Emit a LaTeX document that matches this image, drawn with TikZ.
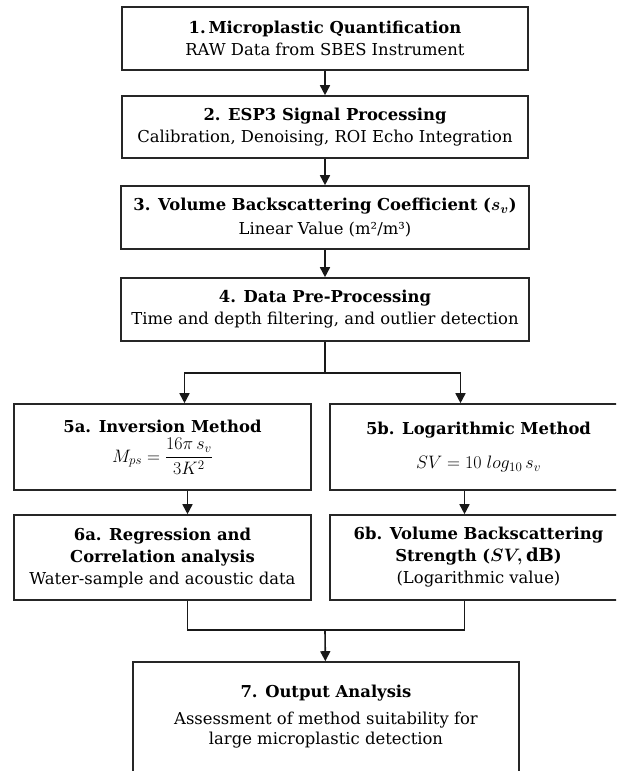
\RequirePackage{fix-cm}
\documentclass[tikz,border=0pt]{standalone}
\usepackage{amsmath}
\usepackage{fontspec}
\setmainfont{DejaVu Serif}
\DeclareMathSizes{16.4}{18}{13}{10}
\usetikzlibrary{arrows.meta}

\begin{document}
\begin{tikzpicture}[x=1pt,y=-1pt,
        stage/.style={draw=black!85,line width=1.6pt,fill=white,align=center,inner sep=0pt,
            font=\fontsize{16.4}{22}\selectfont},
        link/.style={line width=1.6pt,draw=black!90,-{Triangle[width=10pt,length=10pt]}},
        wire/.style={line width=1.6pt,draw=black!90}]
        \useasboundingbox (0,0) rectangle (616,771);
        \clip (0,0) rectangle (616,771);

        \node[stage,minimum width=406pt,minimum height=63pt] at (325,38.5) (raw)
            {\textbf{1.\,Microplastic Quantification}\\RAW Data from SBES Instrument};
        \node[stage,minimum width=406pt,minimum height=62pt] at (325,127) (esp)
            {\textbf{2. ESP3 Signal Processing}\\Calibration, Denoising, ROI Echo Integration};
        \node[stage,minimum width=408pt,minimum height=63pt] at (325,217.5) (vbc)
            {{\bfseries\boldmath 3. Volume Backscattering Coefficient ($s_v$)}\\[2pt]Linear Value (m²/m³)};
        \node[stage,minimum width=408pt,minimum height=63pt] at (325,309.5) (pre)
            {\textbf{4. Data Pre-Processing}\\Time and depth filtering, and outlier detection};

        \node[stage,minimum width=297pt,minimum height=86pt] at (162.5,447) (inv)
            {\textbf{5a. Inversion Method}\\[5pt]$M_{ps} = \dfrac{16\pi\, s_v}{3K^2}$};
        \node[stage,minimum width=297pt,minimum height=86pt] at (478.5,447) (logm)
            {\textbf{5b. Logarithmic Method}\\[12pt]$SV = 10\; log_{10}\, s_v$};
        \node[stage,minimum width=297pt,minimum height=85pt] at (162.5,557.5) (reg)
            {\textbf{6a. Regression and}\\\textbf{Correlation analysis}\\Water-sample and acoustic data};
        \node[stage,minimum width=297pt,minimum height=85pt] at (478.5,557.5) (sv)
            {\textbf{6b. Volume Backscattering}\\{\bfseries\boldmath Strength ($SV,\mathrm{dB}$)}\\(Logarithmic value)};

        \node[stage,minimum width=386pt,minimum height=110pt] at (326,717) (out)
            {\textbf{7. Output Analysis}\\[5pt]Assessment of method suitability for\\[-2pt]large microplastic detection};

        \coordinate (split) at (325,373);
        \coordinate (join) at (325,630);

        \draw[link] (raw) -- (esp);
        \draw[link] (esp) -- (vbc);
        \draw[link] (vbc) -- (pre);
        \draw[wire] (pre) -- (split);
        \draw[link] (split) -| ([xshift=22pt]inv.north);
        \draw[link] (split) -| ([xshift=-18pt]logm.north);
        \draw[link] ([xshift=25pt]inv.south) -- ([xshift=25pt]reg.north);
        \draw[link] ([xshift=-14pt]logm.south) -- ([xshift=-14pt]sv.north);
        \draw[wire] ([xshift=25pt]reg.south) |- (join) -| ([xshift=-14pt]sv.south);
        \draw[link] (join) -- (out);
    \end{tikzpicture}
\end{document}
